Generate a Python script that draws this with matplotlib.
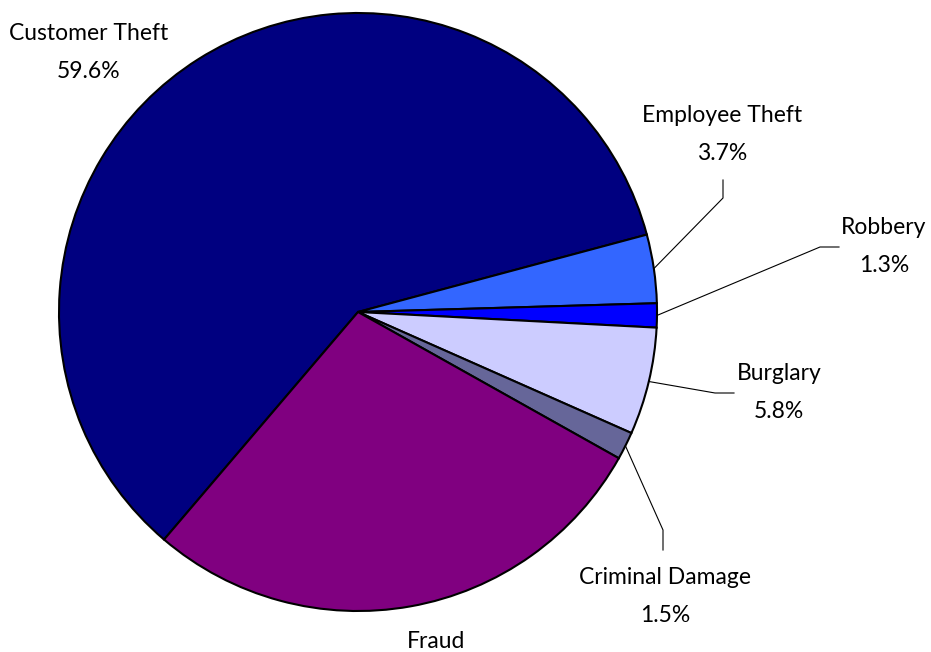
import matplotlib.pyplot as plt
import numpy as np

# share of incidents by type
categories = ['Customer Theft', 'Employee Theft', 'Robbery', 'Burglary', 'Criminal Damage', 'Fraud']
shares = [59.6, 3.7, 1.3, 5.8, 1.5, 28.1]
colors = ['#000080', '#3366ff', '#0000ff', '#ccccff', '#666699', '#800080']

W, H = 931, 652
center = (358, H - 312)
radius = 299
start = 229.56

# label centres (px, top-down) and leader elbow / end points
label_pos = [(89, 33), (722, 115), (884, 228), (779, 374), (665, 578), (436, 642)]
leaders = [None,
           [(723, 198), (723, 180)],
           [(820, 247), (839, 247)],
           [(715, 393), (734, 393)],
           [(663, 530), (663, 550)],
           None]

plt.rcParams['font.family'] = ['Lato', 'DejaVu Sans']

fig = plt.figure(figsize=(W / 100, H / 100), dpi=100)
ax = fig.add_axes([0, 0, 1, 1])
wedges, _ = ax.pie(shares, colors=colors, startangle=start, counterclock=False,
                   center=center, radius=radius, frame=True,
                   wedgeprops=dict(edgecolor='black', linewidth=1.5))
ax.set_xlim(0, W)
ax.set_ylim(0, H)
ax.set_aspect('equal')
ax.axis('off')

for i, (name, val) in enumerate(zip(categories, shares)):
    lx, ly = label_pos[i]
    ax.text(lx, H - ly, name, ha='center', va='center', fontsize=16.5, color='black')
    ax.text(lx, H - ly - 38, f'{val:.1f}%', ha='center', va='center', fontsize=16.5, color='black')
    if leaders[i] is not None:
        w = wedges[i]
        mid = np.deg2rad((w.theta1 + w.theta2) / 2)
        xs = [center[0] + radius * np.cos(mid)] + [p[0] for p in leaders[i]]
        ys = [center[1] + radius * np.sin(mid)] + [H - p[1] for p in leaders[i]]
        ax.plot(xs, ys, color='black', linewidth=0.8)

fig.savefig('out.png', dpi=100)
